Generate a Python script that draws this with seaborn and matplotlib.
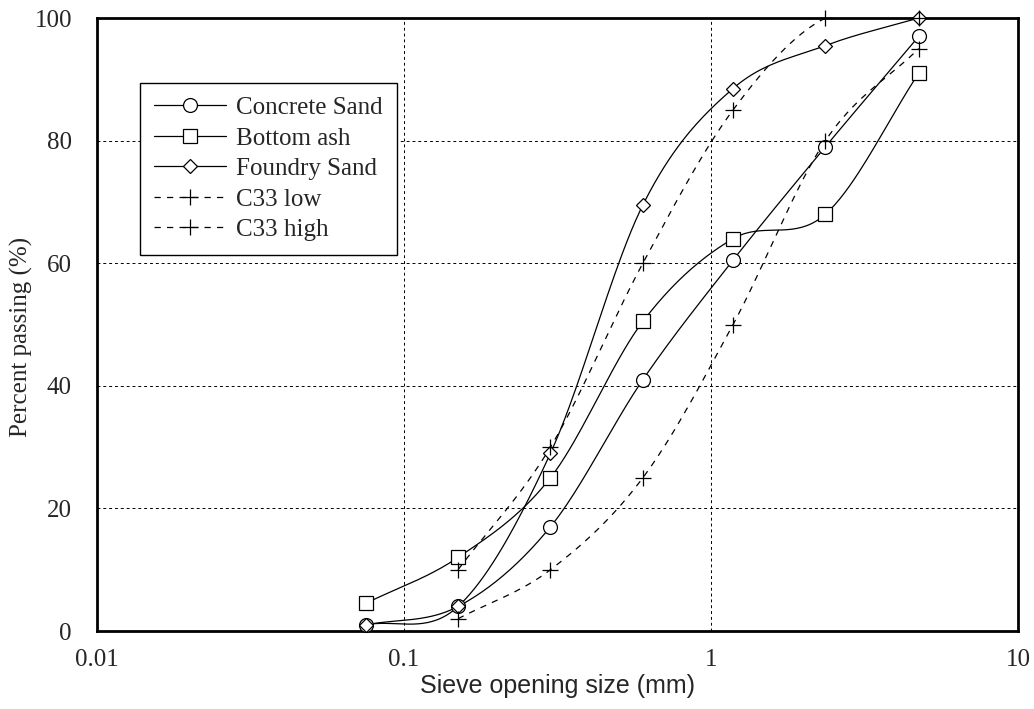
import numpy as np
import pandas as pd
import matplotlib
matplotlib.use("Agg")
import matplotlib.pyplot as plt
from matplotlib.lines import Line2D
import seaborn as sns

sieve = [0.075, 0.15, 0.3, 0.6, 1.18, 2.36, 4.75]
concrete_sand = [1, 4, 17, 41, 60.5, 79, 97]
bottom_ash = [4.5, 12, 25, 50.5, 64, 68, 91]
foundry_sand = [1, 4, 29, 69.5, 88.5, 95.5, 100]
sieve_c33 = [0.15, 0.3, 0.6, 1.18, 2.36, 4.75]
c33_low = [2, 10, 25, 50, 80, 95]
c33_high = [10, 30, 60, 85, 100, 100]

series = [
    ("Concrete Sand", sieve, concrete_sand, "o", "-", 10),
    ("Bottom ash", sieve, bottom_ash, "s", "-", 10),
    ("Foundry Sand", sieve, foundry_sand, "D", "-", 7.5),
    ("C33 low", sieve_c33, c33_low, "+", "--", 12),
    ("C33 high", sieve_c33, c33_high, "+", "--", 12),
]

sns.set_theme(style="white")
plt.rcParams['font.family'] = ['Liberation Serif', 'DejaVu Serif']

fig = plt.figure(figsize=(10.34, 7.09), dpi=100)
ax = fig.add_axes([0.0938, 0.110, 0.8907, 0.8646])
ax.set_xscale("log")
ax.set_xlim(0.01, 10)
ax.set_ylim(0, 100)

W, H = 921.0, 613.0

def smooth(xs, ys, n=40):
    # Catmull-Rom smoothing of the drawn line in screen space (rendering only)
    u = (np.log10(np.asarray(xs, float)) + 2) / 3 * W
    v = np.asarray(ys, float) / 100 * H
    P = np.column_stack([u, v])
    P = np.vstack([P[0] - (P[1] - P[0]), P, P[-1] + (P[-1] - P[-2])])
    out = []
    t = np.linspace(0, 1, n)[:, None]
    for i in range(1, len(P) - 2):
        p0, p1, p2, p3 = P[i - 1], P[i], P[i + 1], P[i + 2]
        seg = 0.5 * ((2 * p1) + (-p0 + p2) * t + (2 * p0 - 5 * p1 + 4 * p2 - p3) * t ** 2
                     + (-p0 + 3 * p1 - 3 * p2 + p3) * t ** 3)
        out.append(seg if i == 1 else seg[1:])
    out = np.vstack(out)
    return 10 ** (out[:, 0] / W * 3 - 2), out[:, 1] / H * 100

handles = []
for name, xs, ys, mk, ls, ms in series:
    sx, sy = smooth(xs, ys)
    df = pd.DataFrame({"x": sx, "y": sy})
    sns.lineplot(data=df, x="x", y="y", ax=ax, sort=False, color="black",
                 linewidth=0.9, linestyle=ls, estimator=None, clip_on=True)
    if ls == "--":
        ax.lines[-1].set_dashes((5, 5))
    ax.plot(xs, ys, linestyle="none", marker=mk, markersize=ms,
            markerfacecolor="white" if mk != "+" else "black",
            markeredgecolor="black", markeredgewidth=0.9, clip_on=False, zorder=3)
    h = Line2D([], [], color="black", linewidth=0.9, marker=mk, markersize=ms,
               markerfacecolor="white", markeredgecolor="black", markeredgewidth=0.9)
    if ls == "--":
        h.set_dashes((5, 5))
    handles.append(h)

ax.set_xticks([0.01, 0.1, 1, 10])
ax.set_xticklabels(["0.01", "0.1", "1", "10"])
ax.set_yticks([0, 20, 40, 60, 80, 100])
ax.set_yticklabels(["0", "20", "40", "60", "80", "100"])
ax.minorticks_off()
ax.tick_params(axis="both", labelsize=18, length=0)
ax.tick_params(axis="y", pad=18)
ax.tick_params(axis="x", pad=13)
ax.grid(True, which="major", color="black", linestyle=(0, (3, 3)), linewidth=0.7)
for s in ax.spines.values():
    s.set_color("black")
    s.set_linewidth(2)

ax.set_xlabel("Sieve opening size (mm)", fontsize=18, family=["Liberation Sans"], labelpad=2)
ax.set_ylabel("Percent passing (%)", fontsize=18)
ax.yaxis.set_label_coords(-0.07, 0.48)

leg = ax.legend(handles, [s[0] for s in series], loc="upper left",
                bbox_to_anchor=(0.0467, 0.894), borderaxespad=0, fontsize=18,
                frameon=True, fancybox=False, edgecolor="black", framealpha=1,
                handlelength=2.9, labelspacing=0.32, borderpad=0.55, handletextpad=0.4)
leg.get_frame().set_linewidth(1.0)

fig.savefig("out.png", dpi=100)
